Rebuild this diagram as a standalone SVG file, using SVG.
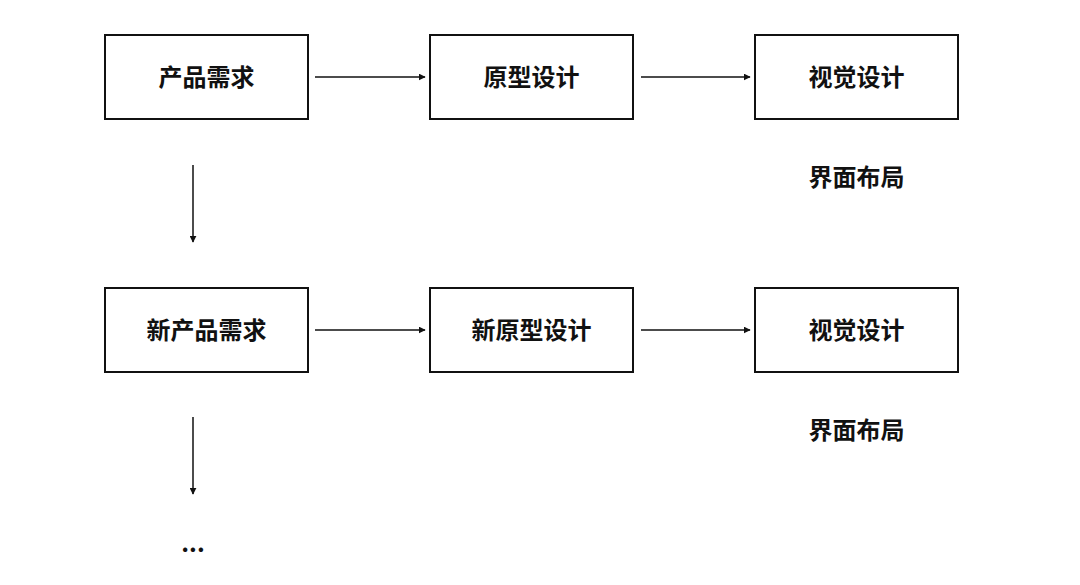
<svg xmlns="http://www.w3.org/2000/svg" width="1080" height="585" viewBox="0 0 1080 585">
<style>
.box{fill:#fff;stroke:#111;stroke-width:2}
.t{font-family:"Noto Sans CJK SC","Noto Sans",sans-serif;font-size:24px;font-weight:bold;fill:#111;text-anchor:middle;dominant-baseline:central}
.c{stroke:#111;stroke-width:1.5;fill:none;marker-end:url(#ah)}
</style>
<defs>
<marker id="ah" viewBox="0 0 10 10" refX="9" refY="5" markerWidth="7" markerHeight="7" markerUnits="userSpaceOnUse" orient="auto">
<path d="M0,0 L10,5 L0,10 z" fill="#111"/>
</marker>
</defs>
<rect width="1080" height="585" fill="#fff"/>
<g id="n1"><rect class="box" x="105" y="35" width="203" height="84"/><text class="t" x="206.5" y="75">产品需求</text></g>
<g id="n2"><rect class="box" x="430" y="35" width="203" height="84"/><text class="t" x="531.5" y="75">原型设计</text></g>
<g id="n3"><rect class="box" x="755" y="35" width="203" height="84"/><text class="t" x="856.5" y="75">视觉设计</text></g>
<g id="l1"><text class="t" x="856.5" y="175">界面布局</text></g>
<g id="n4"><rect class="box" x="105" y="288" width="203" height="84"/><text class="t" x="206.5" y="328">新产品需求</text></g>
<g id="n5"><rect class="box" x="430" y="288" width="203" height="84"/><text class="t" x="531.5" y="328">新原型设计</text></g>
<g id="n6"><rect class="box" x="755" y="288" width="203" height="84"/><text class="t" x="856.5" y="328">视觉设计</text></g>
<g id="l2"><text class="t" x="856.5" y="428">界面布局</text></g>
<g id="l3"><text class="t" x="193" y="541">...</text></g>
<g id="connectors">
<line class="c" x1="315" y1="77" x2="425" y2="77"/>
<line class="c" x1="641" y1="77" x2="750" y2="77"/>
<line class="c" x1="315" y1="330" x2="425" y2="330"/>
<line class="c" x1="641" y1="330" x2="750" y2="330"/>
<line class="c" x1="193" y1="165" x2="193" y2="242"/>
<line class="c" x1="193" y1="417" x2="193" y2="494"/>
</g>
</svg>
